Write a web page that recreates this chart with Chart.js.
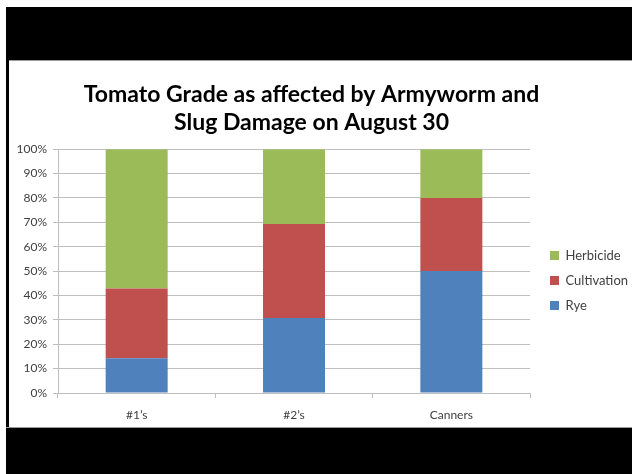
<!DOCTYPE html>
<html>
<head>
<meta charset="utf-8">
<script src="https://cdn.jsdelivr.net/npm/chart.js@4"></script>
<style>
  html, body { margin: 0; padding: 0; background: #fff; }
  body { width: 632px; height: 474px; position: relative; overflow: hidden; }
  .band { position: absolute; background: #000; }
  #wrap { position: absolute; left: 9px; top: 60px; width: 623px; height: 367px; }
</style>
</head>
<body>
<div class="band" style="left:6px;top:7px;width:626px;height:53px;border-bottom:1px solid #999;"></div>
<div class="band" style="left:6px;top:60px;width:3px;height:367px;"></div>
<div class="band" style="left:6px;top:427px;width:626px;height:47px;border-top:1px solid #999;"></div>
<div id="wrap"><canvas id="myChart"></canvas></div>
<script>
// percentages
const categorias = ['#1\u2019s', '#2\u2019s', 'Canners'];
const rye = [14.3, 30.8, 50];
const cultivation = [28.6, 38.5, 30];
const herbicide = [57.1, 30.7, 20];
const yTicks = [0, 10, 20, 30, 40, 50, 60, 70, 80, 90, 100];

const ctx = document.getElementById('myChart').getContext('2d');

// empurra a legenda para a direita/baixo e o titulo um pouco para a esquerda, como no original
const ajustaLayout = {
  id: 'ajustaLayout',
  afterLayout(chart) {
    chart.legend.left += 8;
    chart.legend.right += 8;
    chart.legend.top += 74;
    chart.titleBlock.left -= 8;
    chart.titleBlock.right -= 8;
  }
};

window.myChartInstance = new Chart(ctx, {
  type: 'bar',
  data: {
    labels: categorias,
    datasets: [
      { label: 'Rye', data: rye, backgroundColor: '#4F81BD' },
      { label: 'Cultivation', data: cultivation, backgroundColor: '#C0504D' },
      { label: 'Herbicide', data: herbicide, backgroundColor: '#9BBB59' }
    ]
  },
  plugins: [ajustaLayout],
  options: {
    responsive: true,
    maintainAspectRatio: false,
    animation: false,
    datasets: {
      bar: { categoryPercentage: 1, barPercentage: 0.394 }
    },
    layout: { padding: { left: 0, right: 2, top: 0, bottom: 0 } },
    plugins: {
      title: {
        display: true,
        text: ['Tomato Grade as affected by Armyworm and', 'Slug Damage on August 30'],
        color: '#000',
        font: { family: 'Lato', size: 23, weight: 'bold' },
        lineHeight: 1.18,
        padding: { top: 21, bottom: 13 }
      },
      legend: {
        position: 'right',
        reverse: true,
        labels: {
          boxWidth: 9,
          boxHeight: 9,
          padding: 12,
          color: '#404040',
          font: { family: 'Lato', size: 13 }
        }
      },
      tooltip: { enabled: false }
    },
    scales: {
      x: {
        stacked: true,
        afterFit: (scale) => { scale.height = 34; },
        grid: { drawOnChartArea: false, tickLength: 5, color: '#bfbfbf' },
        border: { color: '#bfbfbf' },
        ticks: { color: '#404040', padding: 10, font: { family: 'Lato', size: 12 } }
      },
      y: {
        stacked: true,
        min: 0,
        max: 100,
        afterFit: (scale) => { scale.width = 49; },
        afterBuildTicks: (scale) => { scale.ticks = yTicks.map(v => ({ value: v })); },
        grid: { color: '#bfbfbf', tickLength: 5 },
        border: { color: '#bfbfbf' },
        ticks: {
          color: '#404040',
          padding: 6,
          font: { family: 'Lato', size: 12 },
          callback: (v) => v + '%'
        }
      }
    }
  }
});
</script>
</body>
</html>
